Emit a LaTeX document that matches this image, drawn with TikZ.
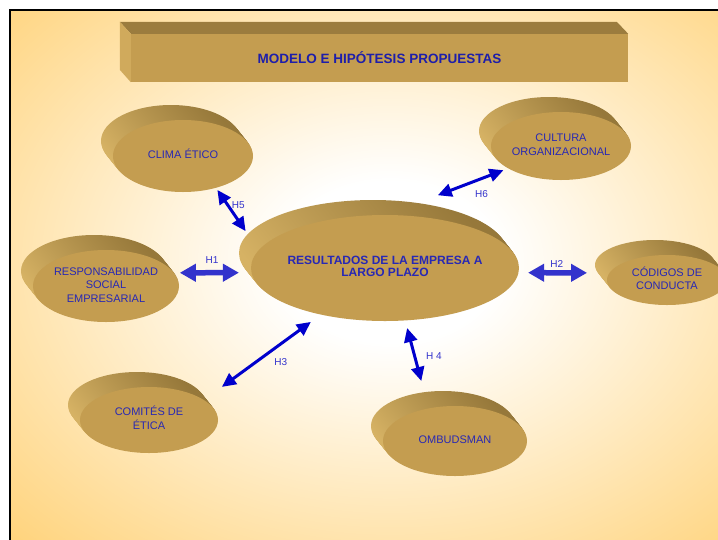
\documentclass[tikz,border=0pt]{standalone}
\usepackage{fontspec}
\setmainfont{Liberation Sans}
\usetikzlibrary{arrows.meta, shapes.geometric}

\definecolor{bgorange}{RGB}{255,204,102}
\definecolor{discface}{RGB}{196,157,80}
\definecolor{discdark}{RGB}{150,120,58}
\definecolor{disclight}{RGB}{214,178,100}
\definecolor{boxtop}{RGB}{155,124,62}
\definecolor{boxside}{RGB}{208,170,92}
\definecolor{titleblue}{RGB}{30,30,170}
\definecolor{textblue}{RGB}{40,40,180}
\definecolor{arrowblue}{RGB}{0,0,204}
\definecolor{hblue}{RGB}{51,51,204}

\pgfdeclareradialshading{glow}{\pgfpoint{0bp}{0bp}}{color(0bp)=(white); color(7bp)=(white); color(39bp)=(bgorange); color(50bp)=(bgorange)}

\newcommand{\disctext}[1]{\makebox[0pt]{\begin{tabular}{@{}c@{}}#1\end{tabular}}}

\begin{document}
\begin{tikzpicture}
		[
			x=1pt, y=-1pt,
			disc/.style={ellipse, fill=discface, inner sep=0pt, outer sep=0pt, text=textblue, font=\fontsize{11}{13.5}\selectfont},
			bigdisc/.style={disc, font=\fontsize{12}{12.5}\selectfont\bfseries},
			discside/.style={top color=discdark, bottom color=disclight, shading angle=-45},
			harrow/.style={draw=arrowblue, line width=3pt, {Triangle[length=14pt,width=13pt]}-{Triangle[length=14pt,width=13pt]}},
			hbig/.style={draw=hblue, line width=5.5pt, {Triangle[length=16pt,width=17pt]}-{Triangle[length=16pt,width=17pt]}},
			hlabel/.style={text=hblue, font=\fontsize{10}{12}\selectfont, inner sep=0pt},
		]

		\useasboundingbox (0,0) rectangle (718,539);
		\fill[white] (0,0) rectangle (718,539);
		\clip (0,0) rectangle (718,539);

		% Background
		\begin{scope}
			\clip (10,10) rectangle (718,539);
			\shade[shading=glow] (0,-26) rectangle (780,550);
		\end{scope}
		\draw[line width=1.5pt] (10,10) rectangle (740,560);

		% Title
		\node[fill=discface, minimum width=497pt, minimum height=48pt, inner sep=0pt, text=titleblue, font=\fontsize{13.5}{16}\selectfont\bfseries] (titulo) at (379.5,58) {MODELO E HIPÓTESIS PROPUESTAS};
		\fill[boxtop] (titulo.north west) -- ++(-11,-12) -- ++(497,0) -- (titulo.north east) -- cycle;
		\fill[boxside] (titulo.north west) -- ++(-11,-12) -- ++(0,48) -- (titulo.south west) -- cycle;

		% Discs
		\foreach \style/\name/\x/\y/\rx/\ry/\txt in
		{
			disc/clima/183/156/70/36/{CLIMA ÉTICO},
			disc/cultura/561/146/70/34/{CULTURA\\ORGANIZACIONAL},
			bigdisc/result/385/268/134/53/{RESULTADOS DE LA EMPRESA A\\LARGO PLAZO},
			disc/rse/106/286/73/36/{RESPONSABILIDAD\\SOCIAL\\EMPRESARIAL},
			disc/codigos/667/280/60/25/{CÓDIGOS DE\\CONDUCTA},
			disc/comites/149/420/69/33/{COMITÉS DE\\ÉTICA},
			disc/ombuds/455/441/72/35/{OMBUDSMAN}
		}
		{
			\foreach \k in {15,14,...,1}
				\shade[discside] ({\x-0.8*\k},{\y-\k}) ellipse [x radius=\rx*1pt, y radius=\ry*1pt];
			\node[\style, minimum width=2*\rx*1pt, minimum height=2*\ry*1pt] (\name) at (\x,\y) {\disctext{\txt}};
		}

		% Hypotheses
		\foreach \style/\u/\a/\v/\b/\s/\e/\p/\dx/\dy/\txt in
		{
			harrow/clima/-44/result/172/2.6/23.2/.36/7/-5/H5,
			harrow/result/89/cultura/203/55.5/5.2/.74/5/14/H6,
			hbig/rse/11/result/182/5.9/12.6/.49/0/-13/H1,
			hbig/result/-2/codigos/173/9.6/22.4/.42/0/-9/H2,
			harrow/comites/20/result/216/22.3/12.5/.58/9/12/H3,
			harrow/result/-69/ombuds/129/7.9/28.4/.46/18/-5/H 4
		}
			\draw[\style, shorten <=\s*1pt, shorten >=\e*1pt] (\u.\a) -- node[hlabel, pos=\p, shift={(\dx,\dy)}] {\txt} (\v.\b);

\end{tikzpicture}
\end{document}
